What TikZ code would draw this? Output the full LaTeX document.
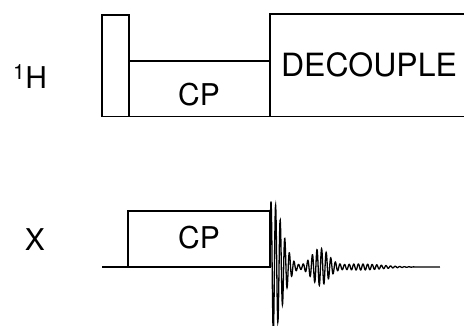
\documentclass[tikz,border=0pt]{standalone}
\usepackage{fontspec}
\setmainfont{TeX Gyre Heros}
\usepackage{tikz}

\begin{document}
\begin{tikzpicture}[x=1pt,y=-1pt,line width=1.8pt,
  lbl/.style={font=\fontsize{30}{36}\selectfont},
  biglbl/.style={font=\fontsize{32}{38}\selectfont},
  declare function={
    envfid(\t)=66*exp(-min(((\t-272)/14)^2,15)) + 18*exp(-min(((\t-320)/12)^2,15))
      + 3*exp(-min(((\t-360)/30)^2,15));
    wavefid(\t)=cos(mod(\t-271,4.6)*360/4.6);
  }]
\tikzstyle{every node}+=[inner sep=0pt]
\useasboundingbox (0,0) rectangle (464,326);
% 1H channel
\draw [black] (102,116.5) rectangle (129,15);
\draw [black] (129,61) -- (270,61);
\draw [black] (270,116.5) -- (270,14) -- (464,14);
\draw [black] (102,116.5) -- (464,116.5);
\node [lbl] (hlab) at (30,77) {\textsuperscript{1}H};
\node [lbl] (cptop) at (199,95) {CP};
\node [biglbl] (dec) at (369,65) {DECOUPLE};
% X channel
\draw [black] (102,267) -- (128,267);
\draw [black] (128,267) rectangle (270,211);
\node [lbl] (xlab) at (35,240) {X};
\node [lbl] (cpbot) at (199,238) {CP};
% FID
\draw [black, line width=1.3pt] plot [domain=270:440, samples=1000]
  (\x, {267 - envfid(\x)*wavefid(\x)});
\end{tikzpicture}
\end{document}
